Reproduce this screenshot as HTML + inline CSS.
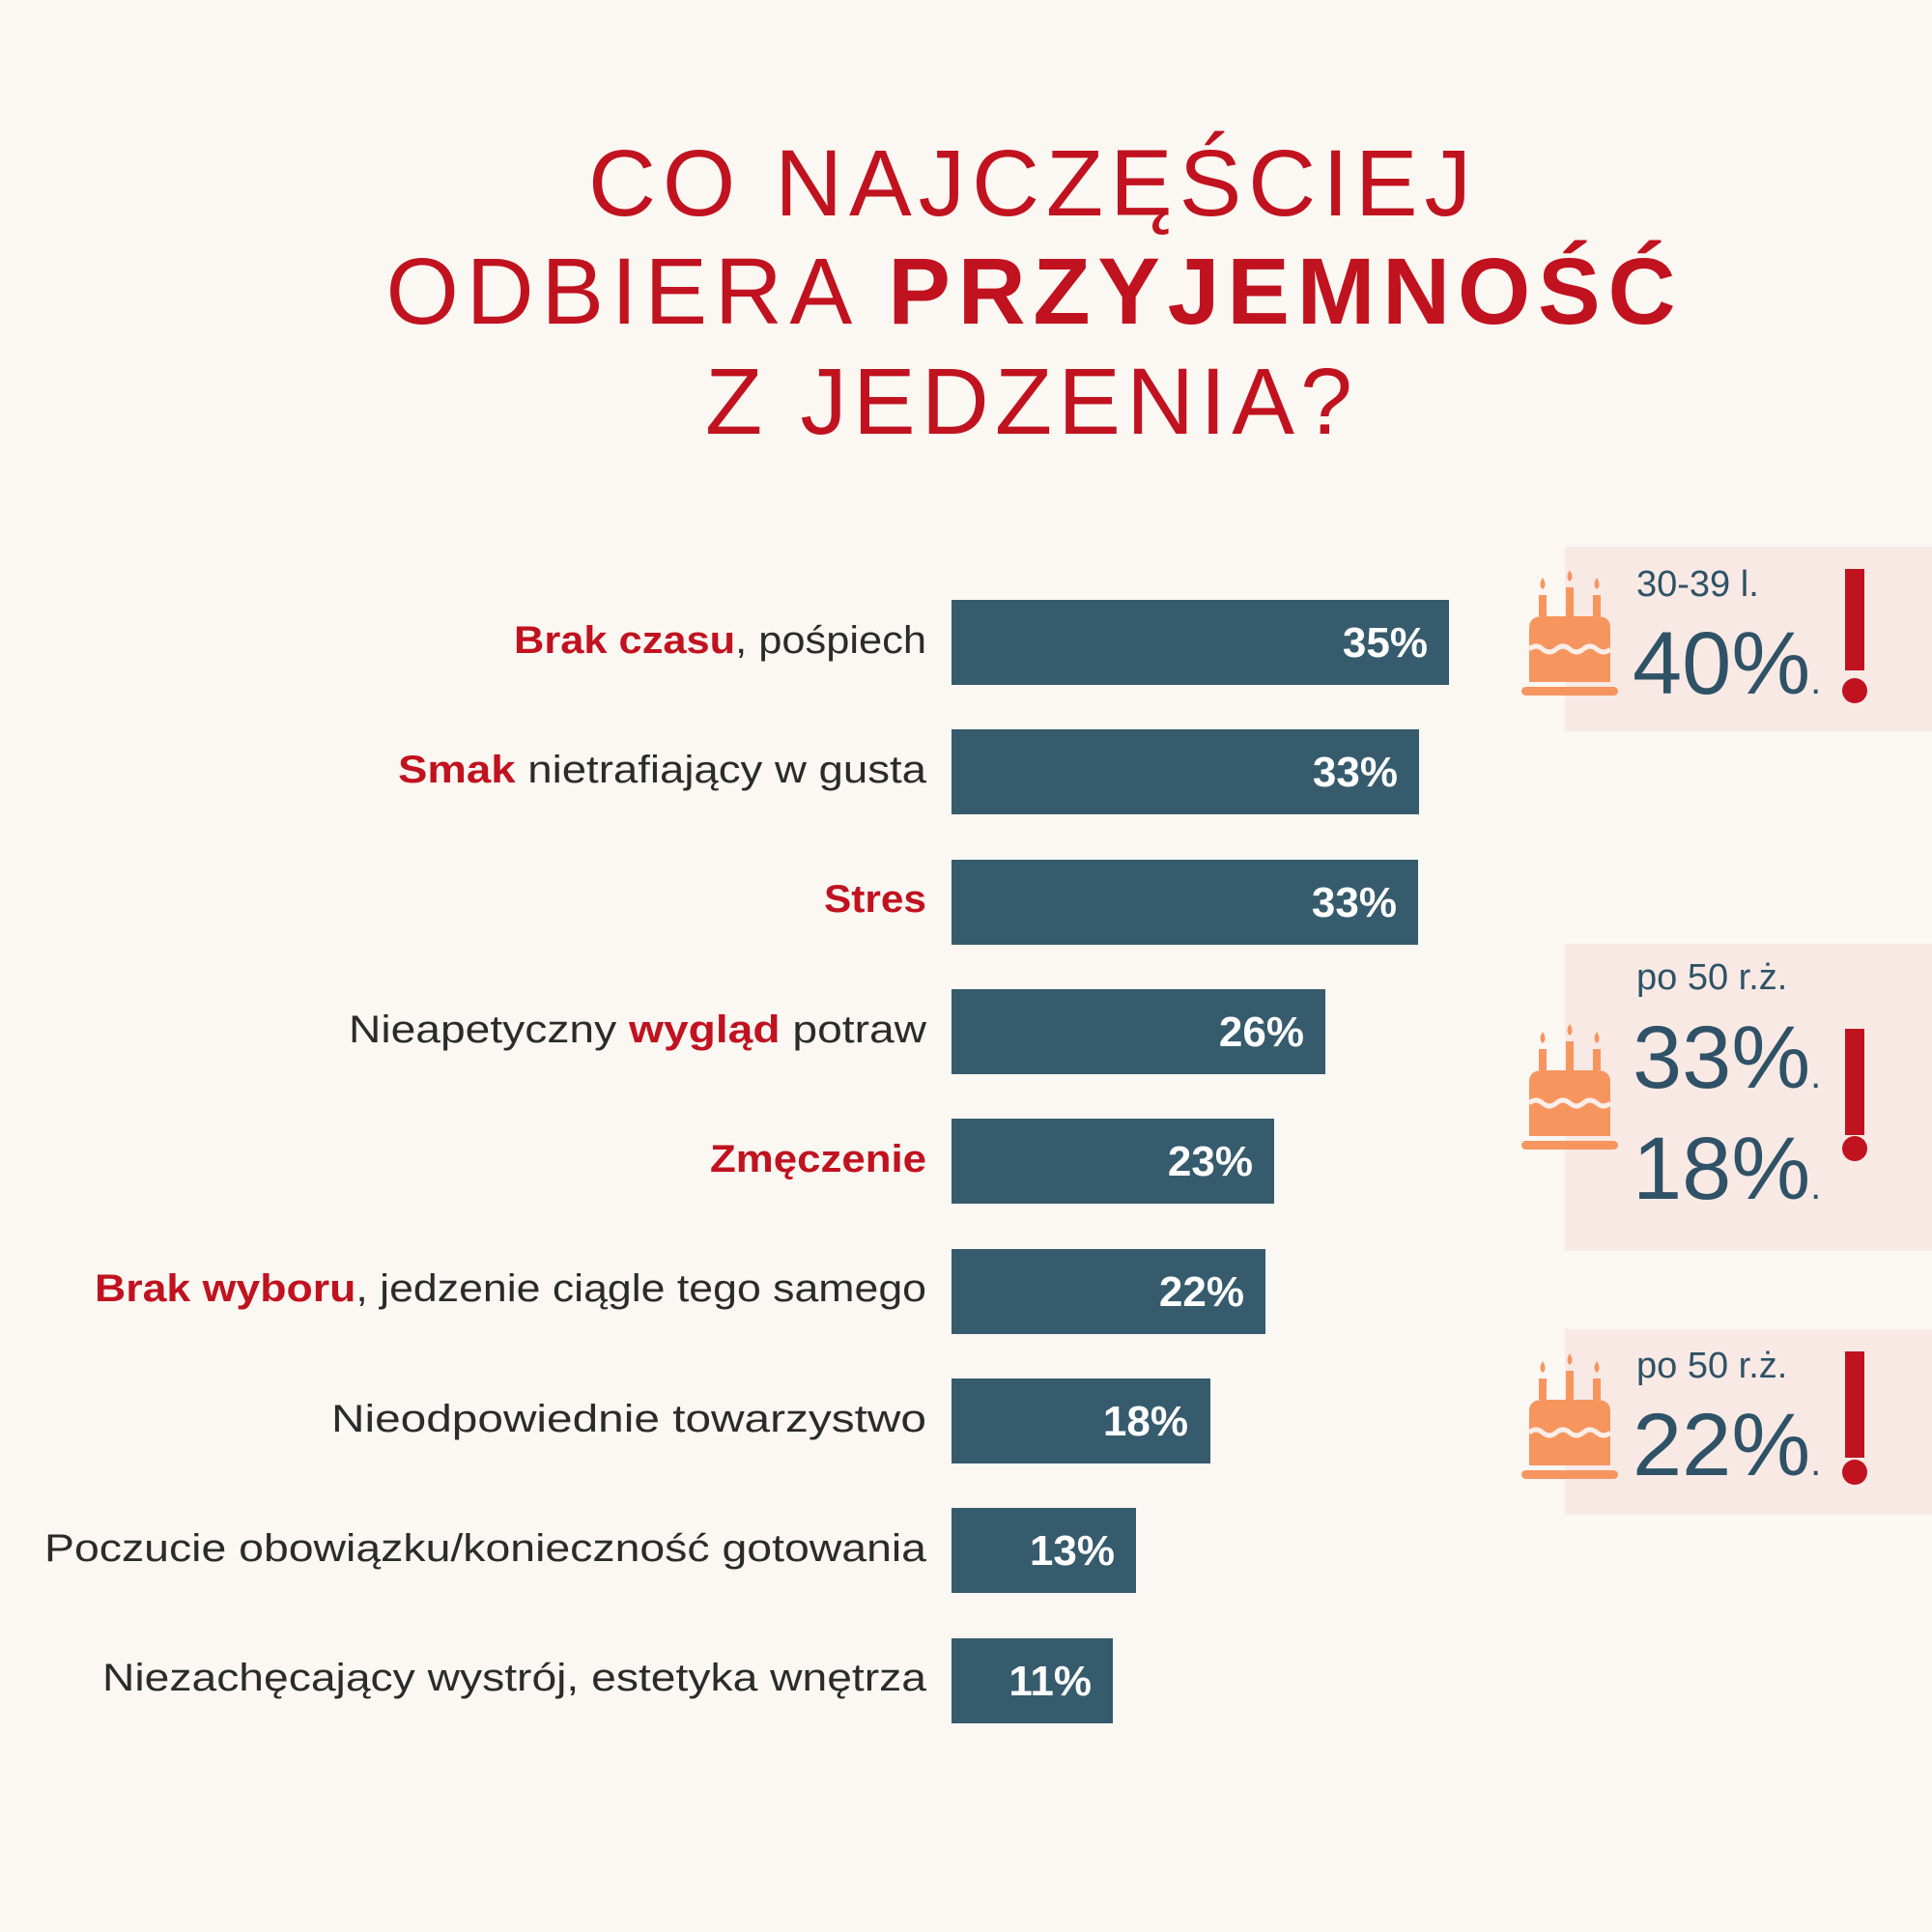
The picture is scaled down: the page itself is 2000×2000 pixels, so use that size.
<!DOCTYPE html>
<html><head><meta charset="utf-8"><style>
html,body{margin:0;padding:0;background:#fbf7f2;}
svg{display:block}
</style></head><body>
<svg width="2000" height="2000" viewBox="0 0 2000 2000" xmlns="http://www.w3.org/2000/svg">
<defs>
<symbol id="cake" viewBox="0 0 100 132">
<g fill="#f7955f">
<path d="M22 10 q-5 8 0 12 q5 -4 0 -12z"/>
<path d="M50 2 q-5 8 0 12 q5 -4 0 -12z"/>
<path d="M78 10 q-5 8 0 12 q5 -4 0 -12z"/>
<rect x="18" y="28" width="8" height="22"/>
<rect x="46" y="20" width="8" height="30"/>
<rect x="74" y="28" width="8" height="22"/>
<path d="M8 62 q0 -12 14 -12 h56 q14 0 14 12 v56 h-84z"/>
<rect x="0" y="123" width="100" height="9" rx="4.5"/>
</g>
<path d="M8 84 q7 -6 14 0 t14 0 t14 0 t14 0 t14 0 t14 0" fill="none" stroke="#fbeee8" stroke-width="5"/>
</symbol>
</defs>
<rect width="2000" height="2000" fill="#fbf7f2"/>
<g font-family="Liberation Sans, sans-serif" fill="#c1121f" font-size="97" text-anchor="middle">
<text x="1066" y="223" textLength="914" lengthAdjust="spacing">CO NAJCZĘŚCIEJ</text>
<text x="1067" y="335" textLength="1335" lengthAdjust="spacing">ODBIERA <tspan font-weight="bold">PRZYJEMNOŚĆ</tspan></text>
<text x="1065" y="449" textLength="670" lengthAdjust="spacing">Z JEDZENIA?</text>
</g>
<!-- panels -->
<rect x="1620" y="566" width="380" height="191" fill="#f8e9e5"/>
<rect x="1620" y="977" width="380" height="318" fill="#f8e9e5"/>
<rect x="1620" y="1376" width="380" height="192" fill="#f8e9e5"/>
<use href="#cake" x="1575" y="588" width="100" height="132"/>
<use href="#cake" x="1575" y="1058" width="100" height="132"/>
<use href="#cake" x="1575" y="1399" width="100" height="132"/>
<g font-family="Liberation Sans, sans-serif" fill="#2f5266">
<text x="1694" y="617" font-size="38">30-39 l.</text>
<text x="1690" y="718" font-size="92">40%<tspan font-size="40">.</tspan></text>
<text x="1694" y="1024" font-size="38">po 50 r.ż.</text>
<text x="1690" y="1126" font-size="92">33%<tspan font-size="40">.</tspan></text>
<text x="1690" y="1241" font-size="92">18%<tspan font-size="40">.</tspan></text>
<text x="1694" y="1426" font-size="38">po 50 r.ż.</text>
<text x="1690" y="1527" font-size="92">22%<tspan font-size="40">.</tspan></text>
</g>
<g fill="#c1121f">
<rect x="1910" y="589" width="20" height="105"/><circle cx="1920" cy="715" r="13"/>
<rect x="1910" y="1065" width="20" height="110"/><circle cx="1920" cy="1189" r="13"/>
<rect x="1910" y="1399" width="20" height="110"/><circle cx="1920" cy="1524" r="13"/>
</g>
<!-- bars -->
<g fill="#365b6d">
<rect x="985" y="621" width="515" height="88"/>
<rect x="985" y="755" width="484" height="88"/>
<rect x="985" y="890" width="483" height="88"/>
<rect x="985" y="1024" width="387" height="88"/>
<rect x="985" y="1158" width="334" height="88"/>
<rect x="985" y="1293" width="325" height="88"/>
<rect x="985" y="1427" width="268" height="88"/>
<rect x="985" y="1561" width="191" height="88"/>
<rect x="985" y="1696" width="167" height="88"/>
</g>
<g font-family="Liberation Sans, sans-serif" fill="#ffffff" font-weight="bold" font-size="44" text-anchor="end">
<text x="1478" y="680">35%</text>
<text x="1447" y="814">33%</text>
<text x="1446" y="949">33%</text>
<text x="1350" y="1083">26%</text>
<text x="1297" y="1217">23%</text>
<text x="1288" y="1352">22%</text>
<text x="1230" y="1486">18%</text>
<text x="1154" y="1620">13%</text>
<text x="1130" y="1755">11%</text>
</g>
<g font-family="Liberation Sans, sans-serif" fill="#2b2b2b" font-size="40" text-anchor="end">
<text x="959" y="676" textLength="427" lengthAdjust="spacingAndGlyphs"><tspan fill="#c1121f" font-weight="bold">Brak czasu</tspan>, pośpiech</text>
<text x="959" y="810" textLength="547" lengthAdjust="spacingAndGlyphs"><tspan fill="#c1121f" font-weight="bold">Smak</tspan> nietrafiający w gusta</text>
<text x="959" y="944" textLength="106" lengthAdjust="spacingAndGlyphs" fill="#c1121f" font-weight="bold">Stres</text>
<text x="959" y="1079" textLength="598" lengthAdjust="spacingAndGlyphs">Nieapetyczny <tspan fill="#c1121f" font-weight="bold">wygląd</tspan> potraw</text>
<text x="959" y="1213" textLength="224" lengthAdjust="spacingAndGlyphs" fill="#c1121f" font-weight="bold">Zmęczenie</text>
<text x="959" y="1347" textLength="861" lengthAdjust="spacingAndGlyphs"><tspan fill="#c1121f" font-weight="bold">Brak wyboru</tspan>, jedzenie ciągle tego samego</text>
<text x="959" y="1482" textLength="616" lengthAdjust="spacingAndGlyphs">Nieodpowiednie towarzystwo</text>
<text x="959" y="1616" textLength="913" lengthAdjust="spacingAndGlyphs">Poczucie obowiązku/konieczność gotowania</text>
<text x="959" y="1750" textLength="853" lengthAdjust="spacingAndGlyphs">Niezachęcający wystrój, estetyka wnętrza</text>
</g>
</svg>
</body></html>
